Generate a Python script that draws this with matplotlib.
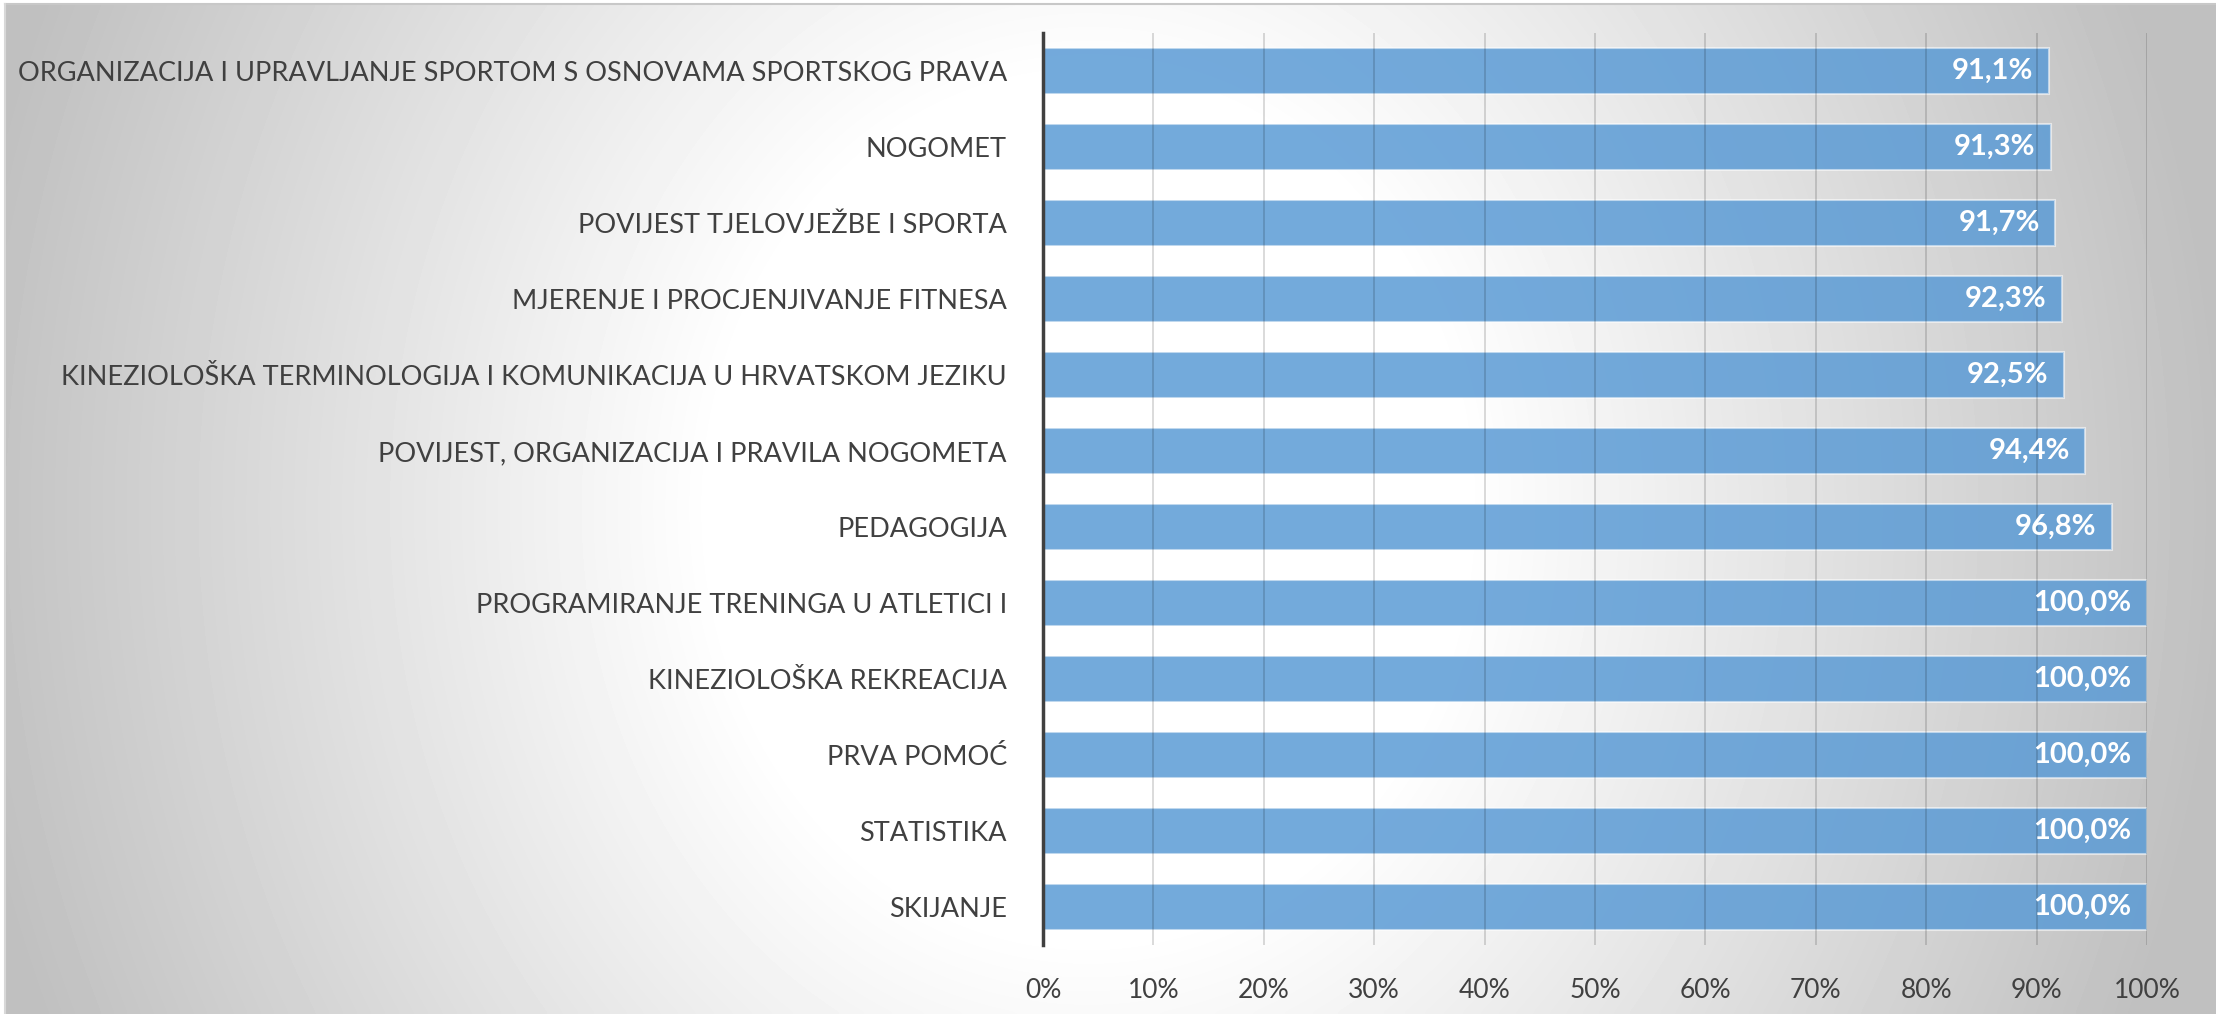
import numpy as np
import matplotlib
matplotlib.use("Agg")
import matplotlib.pyplot as plt
from matplotlib.ticker import PercentFormatter

# data, top to bottom as in the picture
subjects = [
    "ORGANIZACIJA I UPRAVLJANJE SPORTOM S OSNOVAMA SPORTSKOG PRAVA",
    "NOGOMET",
    "POVIJEST TJELOVJEŽBE I SPORTA",
    "MJERENJE I PROCJENJIVANJE FITNESA",
    "KINEZIOLOŠKA TERMINOLOGIJA I KOMUNIKACIJA U HRVATSKOM JEZIKU",
    "POVIJEST, ORGANIZACIJA I PRAVILA NOGOMETA",
    "PEDAGOGIJA",
    "PROGRAMIRANJE TRENINGA U ATLETICI I",
    "KINEZIOLOŠKA REKREACIJA",
    "PRVA POMOĆ",
    "STATISTIKA",
    "SKIJANJE",
]
shares = [91.1, 91.3, 91.7, 92.3, 92.5, 94.4, 96.8, 100.0, 100.0, 100.0, 100.0, 100.0]
x_ticks = list(range(0, 101, 10))

FONT = "Lato"
TXT = "#404040"

W, H = 2216, 1014
fig = plt.figure(figsize=(W / 100, H / 100), dpi=100)
fig.patch.set_facecolor("white")

# grey background, light in the middle, darker towards the sides
bg = fig.add_axes([5 / W, 0, 1 - 5 / W, 1 - 4 / H])
bg.set_axis_off()
gx, gy = np.meshgrid(np.linspace(0, 1, 500), np.linspace(0, 1, 250))
r = np.sqrt((gx - 0.49) ** 2 + (0.4 * (gy - 0.5)) ** 2)
shade = np.clip(1 - 0.72 * (r - 0.17), 0.75, 1)
bg.imshow(shade, cmap="gray", vmin=0, vmax=1, origin="lower",
          extent=[0, 1, 0, 1], aspect="auto", interpolation="bicubic")
fig.add_artist(plt.Line2D([5 / W, 1], [1 - 4 / H, 1 - 4 / H], color="#c8c8c8", lw=1.5))
fig.add_artist(plt.Line2D([5 / W, 5 / W], [0, 1 - 4 / H], color="#d8d8d8", lw=1.5))

ax = fig.add_axes([1043 / W, 1 - 945 / H, (2147 - 1043) / W, (945 - 33) / H])
ax.patch.set_alpha(0)

ypos = np.arange(len(subjects))[::-1]
bars = ax.barh(ypos, shares, height=0.6,
               color=(0.357, 0.608, 0.835, 0.85),
               edgecolor=(1, 1, 1, 0.55), linewidth=1.5, zorder=2)

for b, v in zip(bars, shares):
    ax.text(b.get_width() - 1.4, b.get_y() + b.get_height() / 2,
            f"{v:.1f}%".replace(".", ","), ha="right", va="center",
            color="white", fontsize=21, fontweight="bold", family=FONT, zorder=4)

ax.set_xlim(0, 100)
ax.set_ylim(-0.5, len(subjects) - 0.5)
ax.set_xticks(x_ticks)
ax.xaxis.set_major_formatter(PercentFormatter(decimals=0))
ax.set_yticks(ypos)
ax.set_yticklabels(subjects)
ax.grid(axis="x", color="black", alpha=0.17, lw=1.2, zorder=3)
ax.set_axisbelow(False)

for s in ["top", "right", "bottom"]:
    ax.spines[s].set_visible(False)
ax.spines["left"].set_color(TXT)
ax.spines["left"].set_linewidth(2.5)
ax.spines["left"].set_zorder(5)

ax.tick_params(axis="both", length=0, colors=TXT)
ax.tick_params(axis="y", pad=26, labelsize=19.5)
ax.tick_params(axis="x", pad=24, labelsize=19)
for lab in ax.get_xticklabels() + ax.get_yticklabels():
    lab.set_family(FONT)

fig.savefig("out.png", dpi=100)
